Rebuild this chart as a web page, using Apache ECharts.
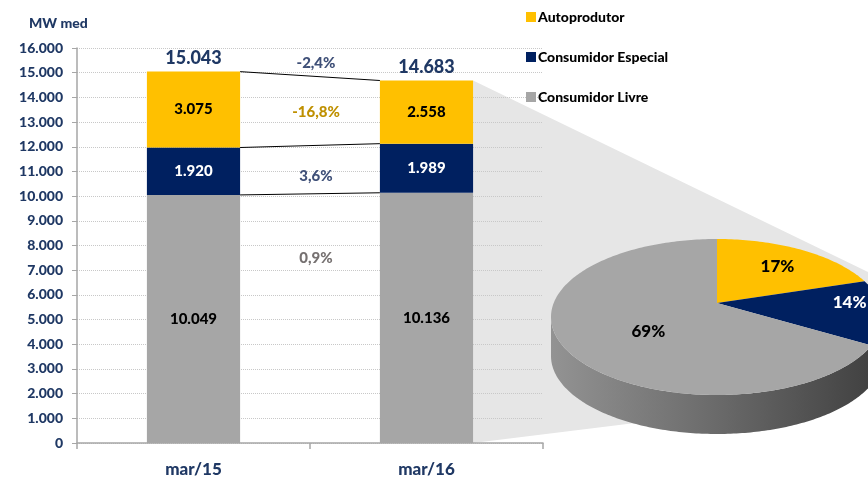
<!DOCTYPE html>
<html>
<head>
<meta charset="utf-8">
<script src="https://cdn.jsdelivr.net/npm/echarts@6/dist/echarts.min.js"></script>
<style>
  html, body { margin: 0; padding: 0; background: #fff; }
  #main { width: 868px; height: 478px; }
</style>
</head>
<body>
<div id="main"></div>
<script>
// dados (MW med)
const categories = ['mar/15', 'mar/16'];
const livre = [10049, 10136];
const especial = [1920, 1989];
const autoprodutor = [3075, 2558];
const totals = [15043, 14683];
// onde ficam os textos de variação (no eixo y)
const changeLabelAt = [15400, 13400, 10800, 7500];

const NAVY = '#002060', YELLOW = '#FFC000', GRAY = '#A6A6A6', TXT = '#1F3864';
const FONT = 'Lato';
const W = 900;

const fmt = v => String(v).replace(/\B(?=(\d{3})+(?!\d))/g, '.');
const pct = (a, b) => ((b - a) / a * 100).toFixed(1).replace('.', ',') + '%';

// linhas de ligação entre as barras
const levels = [
  [livre[0], livre[1]],
  [livre[0] + especial[0], livre[1] + especial[1]],
  [totals[0], totals[1]]
];
const changes = [
  { text: pct(totals[0], totals[1]), color: '#3F5078' },
  { text: pct(autoprodutor[0], autoprodutor[1]), color: '#BF9000' },
  { text: pct(especial[0], especial[1]), color: '#3F5078' },
  { text: pct(livre[0], livre[1]), color: '#767171' }
];

// pizza (mar/16)
const pieValues = [autoprodutor[1], especial[1], livre[1]];
const pieColors = [YELLOW, NAVY, GRAY];
const pieLabelColors = ['#000', '#fff', '#000'];
const pieTotal = pieValues.reduce((a, b) => a + b, 0);
const pieAngles = [];
let cur = 90;
pieValues.forEach(v => {
  const sweep = v / pieTotal * 360;
  pieAngles.push([cur, cur - sweep]);
  cur -= sweep;
});

const chart = echarts.init(document.getElementById('main'));

const PIE = { cx: 717, cy: 317, rx: 166, ry: 78, apexY: 303, depth: 39 };
const labelFrac = [0.7, 0.8, 0.5];
const rad = d => d * Math.PI / 180;
const ept = (a, dy) => [PIE.cx + PIE.rx * Math.cos(rad(a)), PIE.cy - PIE.ry * Math.sin(rad(a)) + (dy || 0)];
function arc(a0, a1, dy) {
  const pts = [];
  const n = Math.max(2, Math.ceil(Math.abs(a0 - a1)));
  for (let k = 0; k <= n; k++) pts.push(ept(a0 + (a1 - a0) * k / n, dy));
  return pts;
}

const option = {
  animation: false,
  textStyle: { fontFamily: FONT },
  title: {
    text: 'MW med', left: 24, top: 11,
    textStyle: { fontSize: 14, fontWeight: W, color: TXT, fontFamily: FONT }
  },
  legend: {
    orient: 'vertical', left: 521, top: 4,
    itemWidth: 10, itemHeight: 10, itemGap: 24,
    icon: 'rect',
    data: ['Autoprodutor', 'Consumidor Especial', 'Consumidor Livre'],
    textStyle: { fontSize: 14, fontWeight: W, color: '#000', lineHeight: 16, fontFamily: FONT, padding: [0, 0, 0, -3] }
  },
  grid: { left: 77, right: 325, top: 48, bottom: 35 },
  xAxis: {
    type: 'category',
    data: categories,
    axisLine: { lineStyle: { color: '#A6A6A6', width: 1.5 } },
    axisTick: { show: true, length: 6, lineStyle: { color: '#A6A6A6', width: 1.5 } },
    axisLabel: { fontSize: 17, fontWeight: W, color: TXT, margin: 18 }
  },
  yAxis: {
    type: 'value', min: 0, max: 16000, interval: 1000,
    axisLine: { show: true, lineStyle: { color: '#A6A6A6', width: 1.5 } },
    axisTick: { show: true, length: 5, lineStyle: { color: '#A6A6A6' } },
    axisLabel: { formatter: fmt, fontSize: 14, fontWeight: W, color: TXT, margin: 14 },
    splitLine: { lineStyle: { type: 'dotted', color: '#C8C8C8' } }
  },
  series: [
    {
      // faixa cinza que liga a barra à pizza
      type: 'custom', name: 'faixa', z: -1, silent: true,
      data: [[1, totals[1]]],
      renderItem: (params, api) => {
        const top = api.coord([1, totals[1]]);
        const bot = api.coord([1, 0]);
        const half = api.size([1, 0])[0] * 0.2;
        return {
          type: 'polygon',
          shape: { points: [[top[0] + half, top[1]], [868, 272], [868, 380], [700, 415], [bot[0] + half, bot[1]]] },
          style: { fill: '#E6E6E6' }
        };
      }
    },
    {
      name: 'Consumidor Livre', type: 'bar', stack: 't', barWidth: '40%',
      itemStyle: { color: GRAY }, data: livre,
      label: { show: true, position: 'inside', formatter: p => fmt(p.value), fontSize: 15, fontWeight: W, color: '#000' }
    },
    {
      name: 'Consumidor Especial', type: 'bar', stack: 't', barWidth: '40%',
      itemStyle: { color: NAVY }, data: especial,
      label: { show: true, position: 'inside', formatter: p => fmt(p.value), fontSize: 15, fontWeight: W, color: '#fff' }
    },
    {
      name: 'Autoprodutor', type: 'bar', stack: 't', barWidth: '40%',
      itemStyle: { color: YELLOW }, data: autoprodutor,
      label: { show: true, position: 'inside', formatter: p => fmt(p.value), fontSize: 15, fontWeight: W, color: '#000' }
    },
    {
      // ligações, totais e variações
      type: 'custom', name: 'ligacoes', z: 5, silent: true,
      data: levels.map(l => [0, l[0]]),
      renderItem: (params, api) => {
        const i = params.dataIndex;
        const half = api.size([1, 0])[0] * 0.2;
        const lv = levels[i];
        const p0 = api.coord([0, lv[0]]);
        const p1 = api.coord([1, lv[1]]);
        const children = [{
          type: 'line',
          shape: { x1: p0[0] + half, y1: p0[1], x2: p1[0] - half, y2: p1[1] },
          style: { stroke: '#000', lineWidth: 1 }
        }];
        if (i === 0) {
          const midX = (api.coord([0, 0])[0] + api.coord([1, 0])[0]) / 2 + 6;
          changes.forEach((c, k) => {
            children.push({
              type: 'text',
              style: {
                x: midX, y: api.coord([0, changeLabelAt[k]])[1], text: c.text,
                fill: c.color, font: W + ' 15px ' + FONT, align: 'center', verticalAlign: 'middle'
              }
            });
          });
          totals.forEach((t, k) => {
            const p = api.coord([k, t]);
            children.push({
              type: 'text',
              style: {
                x: p[0], y: p[1] - 13, text: fmt(t),
                fill: TXT, font: W + ' 18px ' + FONT, align: 'center', verticalAlign: 'middle'
              }
            });
          });
        }
        return { type: 'group', children: children };
      }
    },
    {
      // pizza 3D (mar/16)
      type: 'custom', name: 'pizza', coordinateSystem: 'none', z: 3, silent: true,
      data: pieValues,
      renderItem: (params, api) => {
        const i = params.dataIndex;
        const a0 = pieAngles[i][0], a1 = pieAngles[i][1];
        const apex = [PIE.cx, PIE.apexY];
        const children = [];
        const lo = Math.max(a1, -180), hi = Math.min(a0, 0);
        if (hi > lo) {
          const topArc = arc(hi, lo, 0);
          const botArc = arc(lo, hi, PIE.depth);
          const stops = i === 1
            ? [{ offset: 0, color: '#001a4d' }, { offset: 1, color: '#000f2e' }]
            : [{ offset: 0, color: '#939393' }, { offset: 0.5, color: '#6a6a6a' }, { offset: 1, color: '#3e3e3e' }];
          children.push({
            type: 'polygon',
            shape: { points: topArc.concat(botArc) },
            style: { fill: new echarts.graphic.LinearGradient(PIE.cx - PIE.rx, 0, PIE.cx + PIE.rx, 0, stops, true) }
          });
        }
        children.push({
          type: 'polygon',
          shape: { points: [apex].concat(arc(a0, a1, 0)) },
          style: { fill: pieColors[i] }
        });
        const mid = (a0 + a1) / 2;
        const e = ept(mid, 0);
        const f = labelFrac[i];
        children.push({
          type: 'text',
          style: {
            x: apex[0] + f * (e[0] - apex[0]), y: apex[1] + f * (e[1] - apex[1]) - (i === 1 ? 9 : 0),
            text: Math.round(pieValues[i] / pieTotal * 100) + '%',
            fill: pieLabelColors[i], font: W + ' 17px ' + FONT, align: 'center', verticalAlign: 'middle'
          }
        });
        return { type: 'group', children: children };
      }
    }
  ]
};

chart.setOption(option);
</script>
</body>
</html>
